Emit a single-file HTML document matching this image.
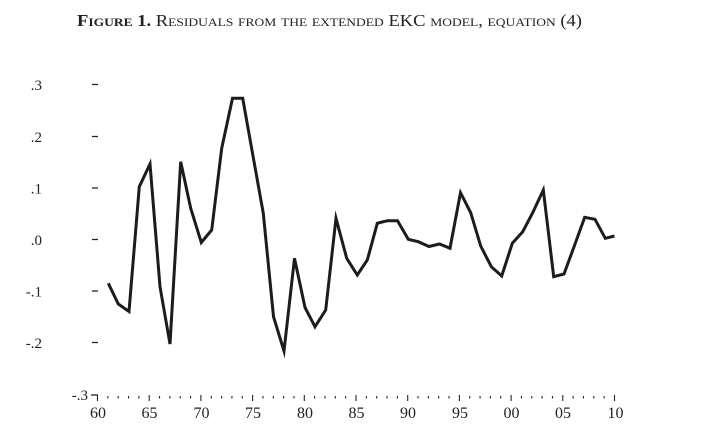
<!DOCTYPE html>
<html>
<head>
<meta charset="utf-8">
<style>
  html, body { margin: 0; padding: 0; background: #ffffff; }
  body { width: 704px; height: 447px; overflow: hidden; }
  svg { display: block; }
  text { font-family: "Liberation Serif", serif; fill: #222; }
</style>
</head>
<body>
<svg width="704" height="447" viewBox="0 0 704 447" xmlns="http://www.w3.org/2000/svg">
  <rect x="0" y="0" width="704" height="447" fill="#ffffff"/>

  <text x="77" y="26" font-size="16.5" style="font-variant: small-caps;" textLength="505" lengthAdjust="spacingAndGlyphs"><tspan font-weight="bold">Figure 1.</tspan> Residuals from the extended EKC model, equation (4)</text>

  <path fill="none" stroke="#222" stroke-width="1.2" d="M92 84.5H98M92 136.5H98M92 188H98M92 239.5H98M92 291H98M92 342.5H98M91 395H98"/>

  <g font-size="15" text-anchor="end">
    <text x="42" y="90">.3</text>
    <text x="42" y="142">.2</text>
    <text x="42" y="193.5">.1</text>
    <text x="42" y="245">.0</text>
    <text x="42" y="296.5">-.1</text>
    <text x="42" y="348">-.2</text>
    <text x="88" y="400">-.3</text>
  </g>

  <path fill="none" stroke="#222" stroke-width="1.1" d="M97.5 395V401M149.2 395V401M200.9 395V401M252.6 395V401M304.3 395V401M356 395V401M407.7 395V401M459.4 395V401M511.1 395V401M562.8 395V401M614.5 395V401"/>
  <path fill="none" stroke="#222" stroke-width="1.1" d="M107.84 396V398.5M118.18 396V398.5M128.52 396V398.5M138.86 396V398.5M159.54 396V398.5M169.88 396V398.5M180.22 396V398.5M190.56 396V398.5M211.24 396V398.5M221.58 396V398.5M231.92 396V398.5M242.26 396V398.5M262.94 396V398.5M273.28 396V398.5M283.62 396V398.5M293.96 396V398.5M314.64 396V398.5M324.98 396V398.5M335.32 396V398.5M345.66 396V398.5M366.34 396V398.5M376.68 396V398.5M387.02 396V398.5M397.36 396V398.5M418.04 396V398.5M428.38 396V398.5M438.72 396V398.5M449.06 396V398.5M469.74 396V398.5M480.08 396V398.5M490.42 396V398.5M500.76 396V398.5M521.44 396V398.5M531.78 396V398.5M542.12 396V398.5M552.46 396V398.5M573.14 396V398.5M583.48 396V398.5M593.82 396V398.5M604.16 396V398.5"/>

  <g font-size="16" text-anchor="middle">
    <text x="98" y="418">60</text>
    <text x="149.5" y="418">65</text>
    <text x="201.5" y="418">70</text>
    <text x="253" y="418">75</text>
    <text x="305" y="418">80</text>
    <text x="356.5" y="418">85</text>
    <text x="408" y="418">90</text>
    <text x="460" y="418">95</text>
    <text x="511.5" y="418">00</text>
    <text x="563" y="418">05</text>
    <text x="615.5" y="418">10</text>
  </g>

  <polyline fill="none" stroke="#1c1c1c" stroke-width="3" stroke-linejoin="miter" stroke-miterlimit="6" points="108.3,283.3 118.3,304 129,311.5 139.3,186.7 150,164 160,286.7 170,344 180.7,161.7 190.7,208.3 201.3,242.5 211.7,230 221.7,148.3 232.5,98.3 242.7,98.3 253,156 263.3,213.3 273.5,316.7 284,351 294.5,258.3 305,307.5 315,326.7 325.7,310 336,218.3 346.7,258.3 357.3,275 367.3,260 377.3,223.3 387.5,220.7 397.5,220.7 408.3,239.3 418.3,241.7 429,246.5 439.5,244 450,248.3 460.5,192.7 470.7,212.7 480.7,246 491.3,266.7 501.7,276 512.3,243.3 522.7,231.7 532.7,212.7 543.3,190 553.7,276.7 564,274 574.3,246 584.7,217.3 595,219.3 605.3,238.3 614.5,236"/>
</svg>
</body>
</html>
